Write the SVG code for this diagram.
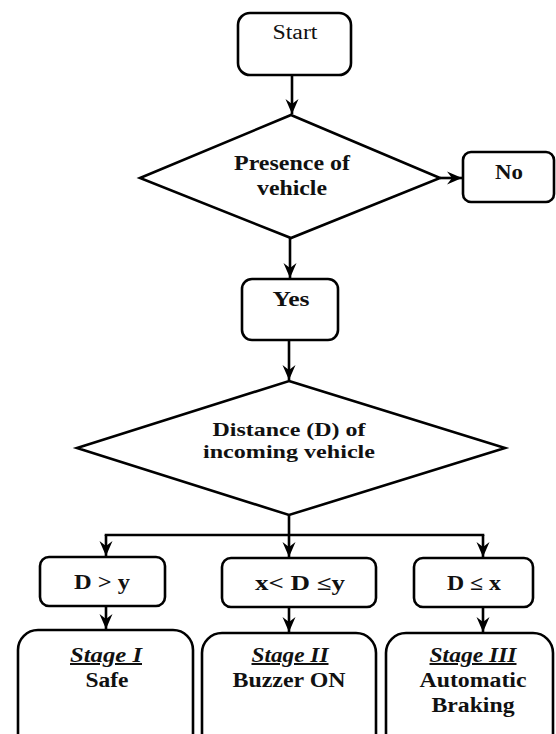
<svg xmlns="http://www.w3.org/2000/svg" width="556" height="734" viewBox="0 0 556 734">
<style>
.s{fill:#fff;stroke:#000;stroke-width:2.6;}
.c{fill:none;stroke:#000;stroke-width:2.6;}
text{font-family:"Liberation Serif","Times New Roman",serif;font-weight:bold;font-size:20px;text-anchor:middle;fill:#111;}
.st{font-style:italic;text-decoration:underline;}
.sm{font-size:19px;}
</style>
<defs>
<marker id="ah" markerUnits="userSpaceOnUse" markerWidth="16" markerHeight="16" viewBox="-15 -7 16 14" refX="0" refY="0" orient="auto">
<path d="M0,0 L-15,-6.5 L-10,0 L-15,6.5 Z" fill="#000"/>
</marker>
</defs>
<rect width="556" height="734" fill="#fff"/>
<g id="connectors">
<line class="c" x1="292" y1="75" x2="292" y2="114" marker-end="url(#ah)"/>
<line class="c" x1="440" y1="178" x2="462" y2="178" marker-end="url(#ah)"/>
<line class="c" x1="290" y1="238" x2="290" y2="278" marker-end="url(#ah)"/>
<line class="c" x1="289" y1="340" x2="289" y2="380" marker-end="url(#ah)"/>
<line class="c" x1="289" y1="515" x2="289" y2="535"/>
<polyline class="c" points="106,536 106,535 483,535 483,536"/>
<line class="c" x1="106" y1="535" x2="106" y2="556" marker-end="url(#ah)"/>
<line class="c" x1="289" y1="535" x2="289" y2="557" marker-end="url(#ah)"/>
<line class="c" x1="483" y1="535" x2="483" y2="557" marker-end="url(#ah)"/>
<line class="c" x1="106" y1="606" x2="106" y2="629" marker-end="url(#ah)"/>
<line class="c" x1="289" y1="607" x2="289" y2="632" marker-end="url(#ah)"/>
<line class="c" x1="483" y1="607" x2="483" y2="632" marker-end="url(#ah)"/>
</g>
<g id="start">
<rect class="s" x="238" y="13" width="113" height="62" rx="12"/>
<text x="295" y="39" style="font-weight:normal" textLength="45" lengthAdjust="spacingAndGlyphs">Start</text>
</g>
<g id="presence">
<polygon class="s" points="291,115 440,178 291,238 140,178"/>
<text x="292" y="170" textLength="116" lengthAdjust="spacingAndGlyphs">Presence of</text>
<text x="292" y="195" textLength="70" lengthAdjust="spacingAndGlyphs">vehicle</text>
</g>
<g id="no">
<rect class="s" x="463" y="152" width="91" height="50" rx="8"/>
<text x="509" y="179" textLength="28" lengthAdjust="spacingAndGlyphs">No</text>
</g>
<g id="yes">
<rect class="s" x="242" y="279" width="96" height="61" rx="10"/>
<text x="291" y="306" textLength="37" lengthAdjust="spacingAndGlyphs">Yes</text>
</g>
<g id="distance">
<polygon class="s" points="289,381 505,448 289,515 77,448"/>
<text class="sm" x="289" y="436" textLength="153" lengthAdjust="spacingAndGlyphs">Distance (D) of</text>
<text class="sm" x="289" y="458" textLength="172" lengthAdjust="spacingAndGlyphs">incoming vehicle</text>
</g>
<g id="cond1">
<rect class="s" x="40" y="557" width="125" height="49" rx="9"/>
<text x="102" y="589" textLength="56" lengthAdjust="spacingAndGlyphs">D &gt; y</text>
</g>
<g id="cond2">
<rect class="s" x="222" y="558" width="154" height="49" rx="9"/>
<text x="300" y="590" textLength="90" lengthAdjust="spacingAndGlyphs">x&lt; D ≤y</text>
</g>
<g id="cond3">
<rect class="s" x="414" y="558" width="119" height="49" rx="9"/>
<text x="474" y="590" textLength="54" lengthAdjust="spacingAndGlyphs">D ≤ x</text>
</g>
<g id="stage1">
<rect class="s" x="18" y="630" width="175" height="130" rx="20"/>
<text class="st" x="106" y="662" textLength="72" lengthAdjust="spacingAndGlyphs">Stage I</text>
<text x="107" y="687" textLength="43" lengthAdjust="spacingAndGlyphs">Safe</text>
</g>
<g id="stage2">
<rect class="s" x="202" y="633" width="174" height="130" rx="20"/>
<text class="st" x="290" y="662" textLength="77" lengthAdjust="spacingAndGlyphs">Stage II</text>
<text x="289" y="687" textLength="113" lengthAdjust="spacingAndGlyphs">Buzzer ON</text>
</g>
<g id="stage3">
<rect class="s" x="386" y="633" width="167" height="130" rx="20"/>
<text class="st" x="473" y="662" textLength="87" lengthAdjust="spacingAndGlyphs">Stage III</text>
<text x="473" y="687" textLength="107" lengthAdjust="spacingAndGlyphs">Automatic</text>
<text x="473" y="712" textLength="83" lengthAdjust="spacingAndGlyphs">Braking</text>
</g>
</svg>
